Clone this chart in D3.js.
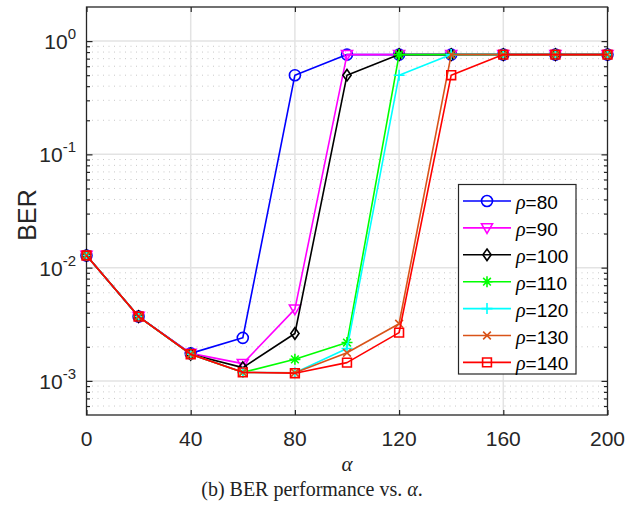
<!DOCTYPE html>
<html>
<head>
<meta charset="utf-8">
<script src="https://cdn.jsdelivr.net/npm/d3@7"></script>
<style>
  html, body { margin: 0; padding: 0; background: #fff; }
  svg { display: block; }
</style>
</head>
<body>
<svg id="chart" width="626" height="508"></svg>
<script>
// ---------------- data ----------------
const alphaValues = [0, 20, 40, 60, 80, 100, 120, 140, 160, 180, 200];
const seriesNames = ["ρ=80", "ρ=90", "ρ=100", "ρ=110", "ρ=120", "ρ=130", "ρ=140"];
const rho80  = [0.0128, 0.0037, 0.00175, 0.0024, 0.5, 0.76, 0.76, 0.76, 0.76, 0.76, 0.76];
const rho90  = [0.0128, 0.0037, 0.00175, 0.00142, 0.0043, 0.76, 0.76, 0.76, 0.76, 0.76, 0.76];
const rho100 = [0.0128, 0.0037, 0.00172, 0.00131, 0.00262, 0.5, 0.76, 0.76, 0.76, 0.76, 0.76];
const rho110 = [0.0128, 0.0037, 0.00172, 0.00119, 0.00155, 0.00218, 0.76, 0.76, 0.76, 0.76, 0.76];
const rho120 = [0.0128, 0.0037, 0.00172, 0.00119, 0.00118, 0.00193, 0.5, 0.76, 0.76, 0.76, 0.76];
const rho130 = [0.0128, 0.0037, 0.00172, 0.00119, 0.00118, 0.00177, 0.0032, 0.76, 0.76, 0.76, 0.76];
const rho140 = [0.0128, 0.0037, 0.00172, 0.00119, 0.00117, 0.00145, 0.00267, 0.5, 0.76, 0.76, 0.76];
const seriesValues = [rho80, rho90, rho100, rho110, rho120, rho130, rho140];
const seriesColors = ["#0000ff", "#ff00ff", "#000000", "#00ff00", "#00ffff", "#d95319", "#ff0000"];
const seriesMarkers = ["circle", "triangleDown", "diamond", "asterisk", "plus", "cross", "square"];
const xTicks = [0, 40, 80, 120, 160, 200];
const yTicks = [1e-3, 1e-2, 1e-1, 1];
const yTickExp = ["-3", "-2", "-1", "0"];
const xLabel = "α";
const yLabel = "BER";
const caption = "(b) BER performance vs. ";

// ---------------- layout ----------------
const svg = d3.select("#chart");
const L = 86.5, R = 607.5, T = 7, B = 415;
const x = d3.scaleLinear().domain([0, 200]).range([L, R]);
const y = d3.scaleLog().domain([5e-4, 2]).range([B, T]);

// minor values
const minorY = [];
for (let e = -4; e <= 0; e++) {
  for (let m = 2; m <= 9; m++) {
    const v = m * Math.pow(10, e);
    if (v > 5e-4 && v < 2) minorY.push(v);
  }
}

const grid = svg.append("g");
grid.selectAll("line.minor").data(minorY).enter().append("line")
  .attr("x1", L).attr("x2", R)
  .attr("y1", d => y(d)).attr("y2", d => y(d))
  .attr("stroke", "#c8c8c8").attr("stroke-width", 1)
  .attr("stroke-dasharray", "1,4.5");
grid.selectAll("line.majy").data(yTicks).enter().append("line")
  .attr("x1", L).attr("x2", R)
  .attr("y1", d => y(d)).attr("y2", d => y(d))
  .attr("stroke", "#e3e3e3").attr("stroke-width", 1.5);
grid.selectAll("line.majx").data(xTicks.slice(1, -1)).enter().append("line")
  .attr("y1", T).attr("y2", B)
  .attr("x1", d => x(d)).attr("x2", d => x(d))
  .attr("stroke", "#e3e3e3").attr("stroke-width", 1.5);

// ---------------- axes ----------------
const axisColor = "#262626";
const axG = svg.append("g");
const bottomAxis = d3.axisBottom(x).tickValues(xTicks).tickSize(-5).tickFormat("");
const topAxis = d3.axisTop(x).tickValues(xTicks).tickSize(-5).tickFormat("");
const leftAxis = d3.axisLeft(y).tickValues(yTicks).tickSize(-6).tickFormat("");
const rightAxis = d3.axisRight(y).tickValues(yTicks).tickSize(-6).tickFormat("");
const leftMinor = d3.axisLeft(y).tickValues(minorY).tickSize(-3.5).tickFormat("");
const rightMinor = d3.axisRight(y).tickValues(minorY).tickSize(-3.5).tickFormat("");
function styleAxis(g) {
  g.selectAll("path.domain").attr("stroke", "none");
  g.selectAll("line").attr("stroke", axisColor).attr("stroke-width", 1.2);
}
axG.append("g").attr("transform", `translate(0,${B})`).call(bottomAxis).call(styleAxis);
axG.append("g").attr("transform", `translate(0,${T})`).call(topAxis).call(styleAxis);
axG.append("g").attr("transform", `translate(${L},0)`).call(leftAxis).call(styleAxis);
axG.append("g").attr("transform", `translate(${R},0)`).call(rightAxis).call(styleAxis);
axG.append("g").attr("transform", `translate(${L},0)`).call(leftMinor).call(styleAxis);
axG.append("g").attr("transform", `translate(${R},0)`).call(rightMinor).call(styleAxis);
axG.append("rect").attr("x", L).attr("y", T).attr("width", R - L).attr("height", B - T)
  .attr("fill", "none").attr("stroke", axisColor).attr("stroke-width", 1.3);

// tick labels
const font = "'Liberation Sans', Arial, Helvetica, sans-serif";
const serif = "'Liberation Serif', 'Times New Roman', serif";
svg.append("g").selectAll("text").data(xTicks).enter().append("text")
  .attr("x", d => x(d)).attr("y", 446)
  .attr("text-anchor", "middle")
  .attr("font-family", font).attr("font-size", 21).attr("fill", axisColor)
  .text(d => d);

const yl = svg.append("g").selectAll("text").data(yTicks).enter().append("text")
  .attr("x", 76).attr("y", d => y(d) + 8)
  .attr("text-anchor", "end")
  .attr("font-family", font).attr("font-size", 21).attr("fill", axisColor);
yl.append("tspan").text("10");
yl.append("tspan").attr("dy", -10).attr("font-size", 15).text((d, i) => yTickExp[i]);

// axis labels
svg.append("text")
  .attr("transform", `translate(36,${(T + B) / 2 + 4}) rotate(-90)`)
  .attr("text-anchor", "middle")
  .attr("font-family", font).attr("font-size", 25).attr("fill", axisColor)
  .text(yLabel);
svg.append("text")
  .attr("x", (L + R) / 2).attr("y", 471)
  .attr("text-anchor", "middle")
  .attr("font-family", serif)
  .attr("font-style", "italic").attr("font-size", 21).attr("fill", "#222")
  .text(xLabel);
const cap = svg.append("text")
  .attr("x", 312).attr("y", 496)
  .attr("text-anchor", "middle")
  .attr("font-family", serif)
  .attr("font-size", 20).attr("fill", "#222");
cap.append("tspan").text(caption);
cap.append("tspan").attr("font-style", "italic").text("α");
cap.append("tspan").text(".");

// ---------------- markers ----------------
function markerPath(type, s) {
  const r = s / 2;
  switch (type) {
    case "circle":
      return `M${r},0 A${r},${r} 0 1,1 ${-r},0 A${r},${r} 0 1,1 ${r},0 Z`;
    case "triangleDown":
      return `M${-r},${-r * 0.75} L${r},${-r * 0.75} L0,${r} Z`;
    case "diamond":
      return `M0,${-r * 1.05} L${r * 0.75},0 L0,${r * 1.05} L${-r * 0.75},0 Z`;
    case "square":
      return `M${-r * 0.8},${-r * 0.8} L${r * 0.8},${-r * 0.8} L${r * 0.8},${r * 0.8} L${-r * 0.8},${r * 0.8} Z`;
    case "plus":
      return `M${-r},0 L${r},0 M0,${-r} L0,${r}`;
    case "cross": {
      const c = r * 0.7;
      return `M${-c},${-c} L${c},${c} M${-c},${c} L${c},${-c}`;
    }
    case "asterisk": {
      const c = r * 0.7;
      return `M${-r},0 L${r},0 M0,${-r} L0,${r} M${-c},${-c} L${c},${c} M${-c},${c} L${c},${-c}`;
    }
  }
}

// ---------------- series ----------------
const line = d3.line().x(d => x(d[0])).y(d => y(d[1]));
const plot = svg.append("g");
seriesValues.forEach((vals, i) => {
  const pts = alphaValues.map((a, j) => [a, vals[j]]);
  const g = plot.append("g");
  g.append("path").attr("d", line(pts))
    .attr("fill", "none").attr("stroke", seriesColors[i]).attr("stroke-width", 1.6)
    .attr("stroke-linejoin", "round");
  g.selectAll("path.m").data(pts).enter().append("path")
    .attr("transform", d => `translate(${x(d[0])},${y(d[1])})`)
    .attr("d", markerPath(seriesMarkers[i], 11))
    .attr("fill", "none").attr("stroke", seriesColors[i]).attr("stroke-width", 1.6);
});

// ---------------- legend ----------------
const lg = svg.append("g");
const lx = 458.5, ly = 184.5, lw = 117.5, lh = 189.5;
lg.append("rect").attr("x", lx).attr("y", ly).attr("width", lw).attr("height", lh)
  .attr("fill", "#fff").attr("stroke", axisColor).attr("stroke-width", 1.2);
seriesNames.forEach((name, i) => {
  const cy = 201 + i * 26.9;
  lg.append("line").attr("x1", 463).attr("x2", 511).attr("y1", cy).attr("y2", cy)
    .attr("stroke", seriesColors[i]).attr("stroke-width", 1.6);
  lg.append("path").attr("transform", `translate(487,${cy})`)
    .attr("d", markerPath(seriesMarkers[i], 11))
    .attr("fill", "none").attr("stroke", seriesColors[i]).attr("stroke-width", 1.6);
  const t = lg.append("text").attr("x", 516).attr("y", cy + 8)
    .attr("font-family", font).attr("font-size", 19).attr("fill", "#000");
  t.append("tspan").attr("font-family", serif)
    .attr("font-style", "italic").attr("font-size", 20).text(name.slice(0, 1));
  t.append("tspan").text(name.slice(1));
});
</script>
</body>
</html>
